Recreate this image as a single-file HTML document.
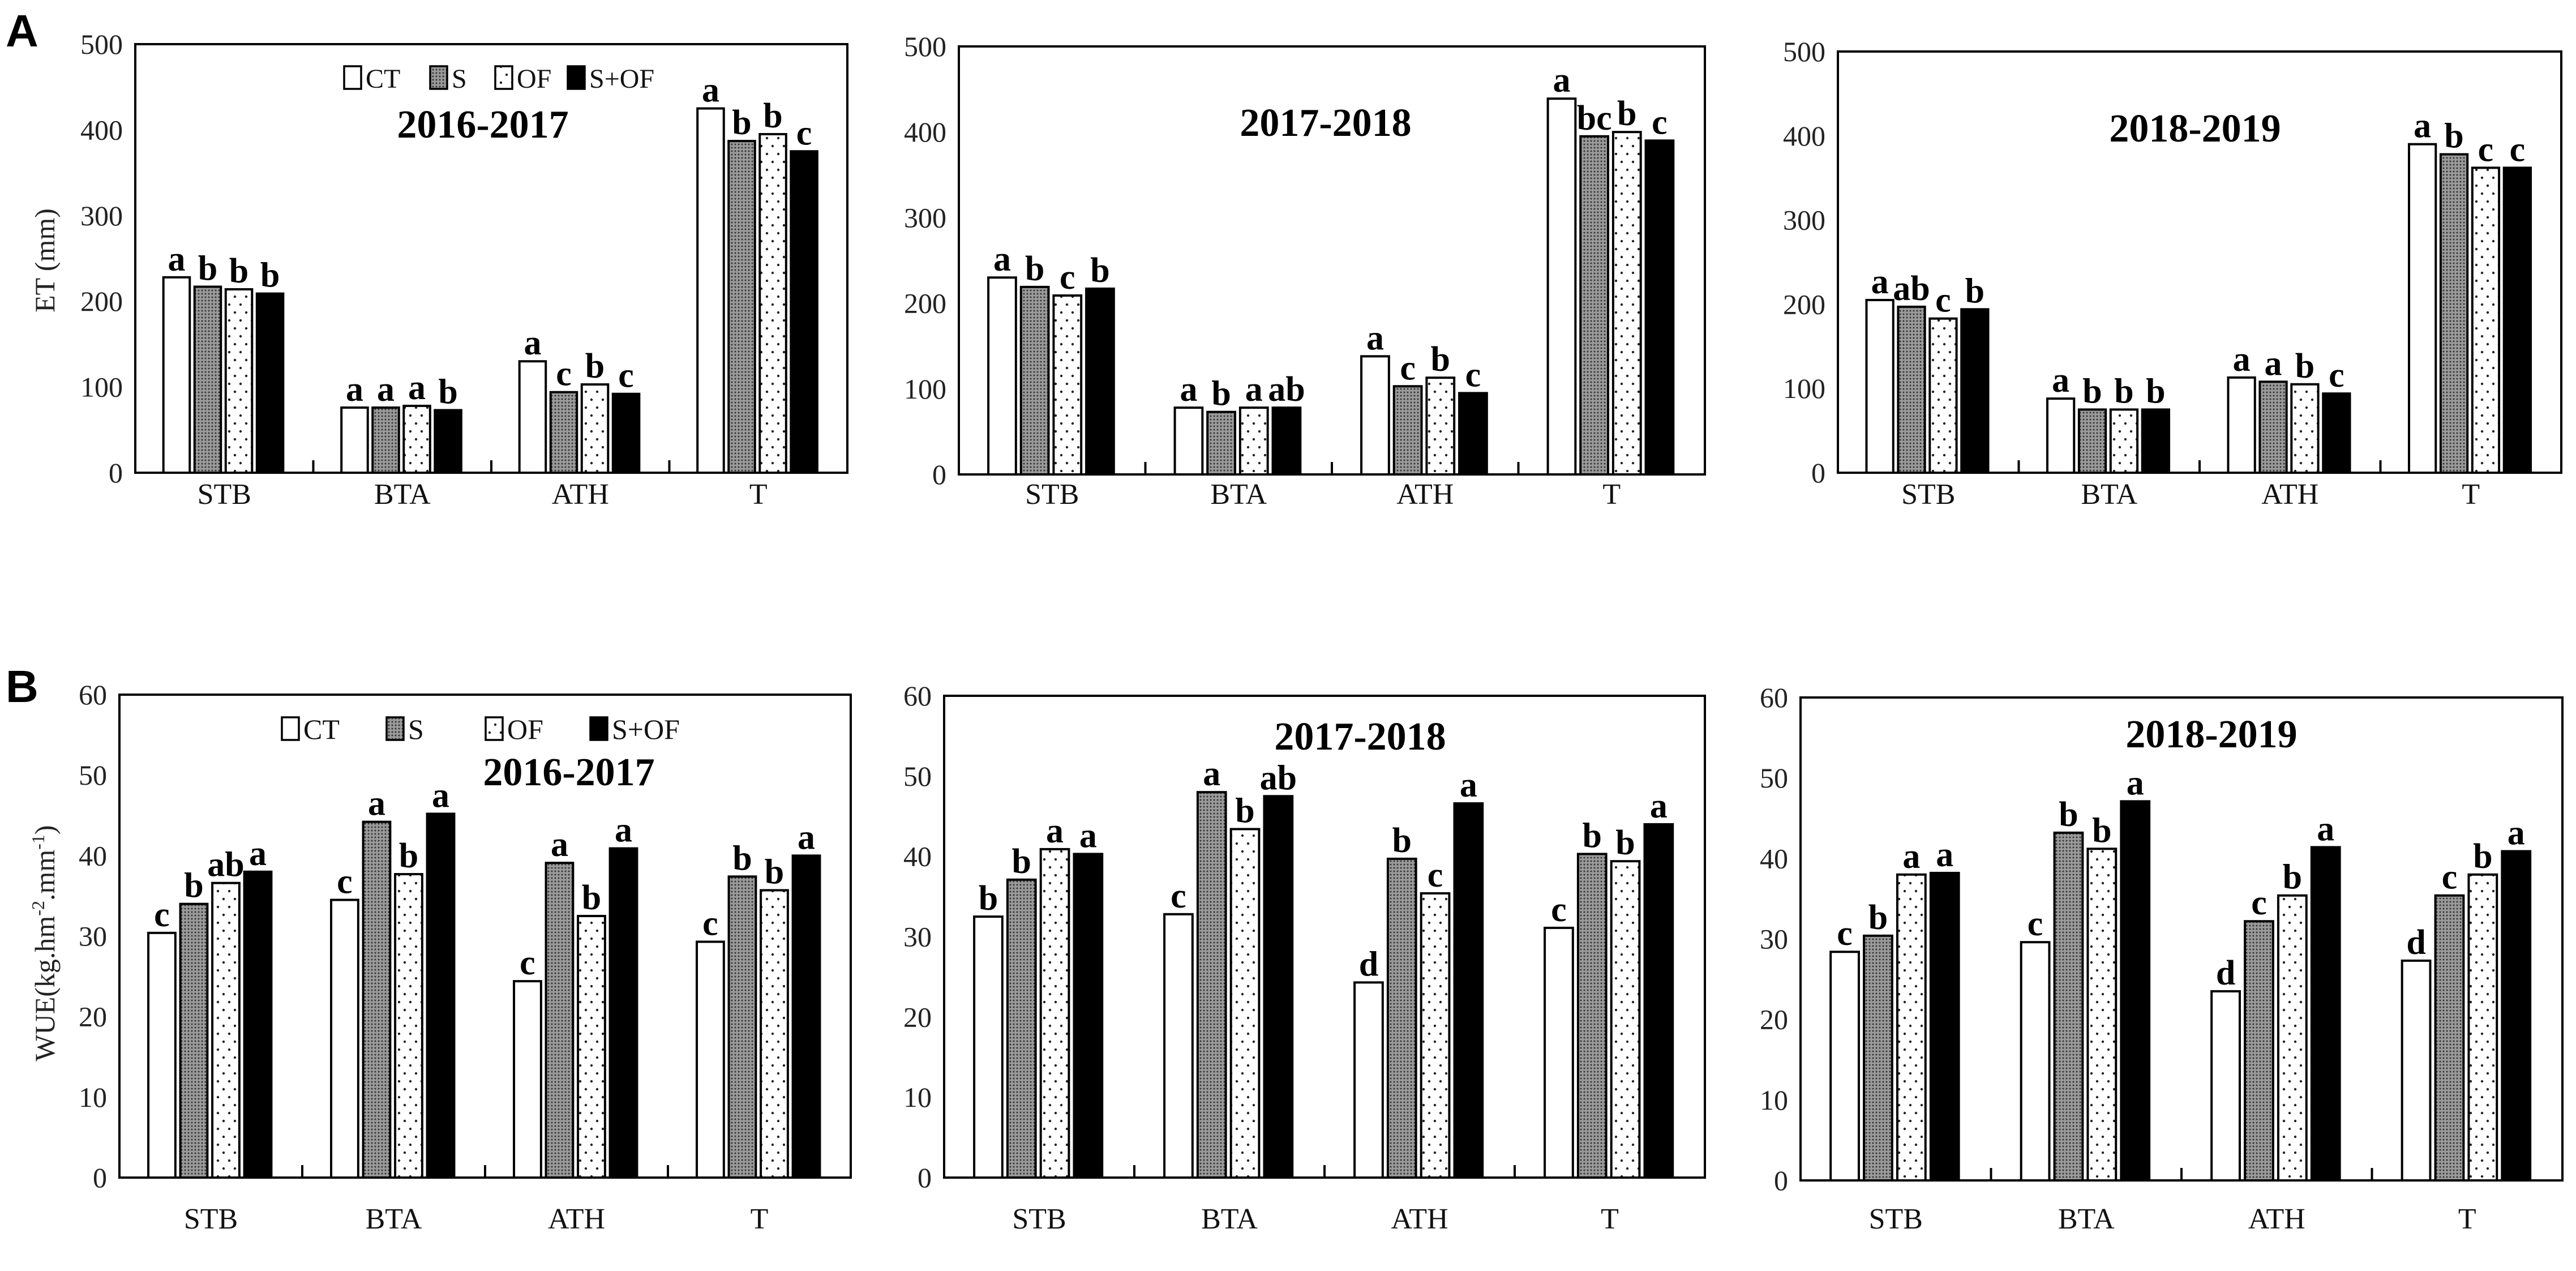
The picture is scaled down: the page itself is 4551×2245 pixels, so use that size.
<!DOCTYPE html>
<html><head><meta charset="utf-8"><style>
html,body{margin:0;padding:0;background:#fff;}
svg{display:block;}
</style></head><body>
<svg id="fig" xmlns="http://www.w3.org/2000/svg" width="4551" height="2245" viewBox="0 0 4551 2245">
<defs>
<pattern id="patS" patternUnits="userSpaceOnUse" width="6" height="6"><rect width="6" height="6" fill="#9a9a9a"/><circle cx="3" cy="3" r="1.5" fill="#333"/></pattern>
<pattern id="patOF" patternUnits="userSpaceOnUse" width="20" height="28"><rect width="20" height="28" fill="#fff"/><circle cx="5" cy="6" r="2.2" fill="#222"/><circle cx="15" cy="20" r="2.2" fill="#222"/></pattern>
</defs>
<rect width="4551" height="2245" fill="#fff"/>
<g id="root"></g>
</svg>
<script>
const categories = ["STB","BTA","ATH","T"];
const seriesNames = ["CT","S","OF","S+OF"];
const etTicks = [0,100,200,300,400,500];
const wueTicks = [0,10,20,30,40,50,60];
const et1 = [[228,217,214,209],[76,76,78,73],[130,94,103,92],[425,387,395,375]];
const et2 = [[230,219,209,217],[78,73,78,78],[138,103,113,95],[439,395,400,390]];
const et3 = [[205,197,183,194],[88,75,75,75],[113,108,105,94],[390,378,362,362]];
const etL1 = [["a","b","b","b"],["a","a","a","b"],["a","c","b","c"],["a","b","b","c"]];
const etL2 = [["a","b","c","b"],["a","b","a","ab"],["a","c","b","c"],["a","bc","b","c"]];
const etL3 = [["a","ab","c","b"],["a","b","b","b"],["a","a","b","c"],["a","b","c","c"]];
const wue1 = [[30.4,34,36.6,38],[34.5,44.2,37.7,45.2],[24.4,39.1,32.5,40.9],[29.3,37.4,35.7,40]];
const wue2 = [[32.5,37.1,40.9,40.3],[32.8,48,43.4,47.5],[24.3,39.7,35.4,46.6],[31.1,40.3,39.4,44]];
const wue3 = [[28.4,30.4,38,38.2],[29.6,43.2,41.2,47.1],[23.5,32.2,35.4,41.4],[27.3,35.4,38,40.9]];
const wueL1 = [["c","b","ab","a"],["c","a","b","a"],["c","a","b","a"],["c","b","b","a"]];
const wueL2 = [["b","b","a","a"],["c","a","b","ab"],["d","b","c","a"],["c","b","b","a"]];
const wueL3 = [["c","b","a","a"],["c","b","b","a"],["d","c","b","a"],["d","c","b","a"]];
const years = ["2016-2017","2017-2018","2018-2019"];

const NS="http://www.w3.org/2000/svg";
const root=document.getElementById('root');
function mk(tag,attrs,parent){const e=document.createElementNS(NS,tag);for(const k in attrs)e.setAttribute(k,attrs[k]);(parent||root).appendChild(e);return e;}
const fills=["#fff","url(#patS)","url(#patOF)","#000"];
const SERIF='"Liberation Serif", serif';

function panel(cfg){
  const g=mk('g',{});
  
  
  const {L,R,T,B,max,ticks,data,letters}=cfg;
  const gw=(R-L)/4;
  const y=v=>B-(v/max)*(B-T);
  const x=(ci,si)=>L+ci*gw+gw*0.158+si*gw*0.175;
  const bw=gw*0.148;
  const frame=mk('rect',{x:L,y:T,width:R-L,height:B-T,fill:'none',stroke:'#000','stroke-width':4},g);
  
  
  ticks.forEach(t=>{
    const tl=mk('text',{x:L-22,y:y(t)+17,'text-anchor':'end','font-family':SERIF,'font-size':50,fill:'#222'},g);
    tl.textContent=t;
    
    
  });
  for(let c=1;c<4;c++){
    const tk=mk('line',{x1:L+c*gw,x2:L+c*gw,y1:B,y2:B-22,stroke:'#000','stroke-width':4},g);
    
    
  }
  categories.forEach((cat,ci)=>{
    const cl=mk('text',{x:L+ci*gw+gw*0.5,y:cfg.catY,'text-anchor':'middle','font-family':SERIF,'font-size':52,fill:'#111'},g);
    cl.textContent=cat;
    
    
    data[ci].forEach((v,si)=>{
      const bx=x(ci,si), by=y(v);
      const r=mk('rect',{x:bx,y:by,width:bw,height:B-by,fill:fills[si],stroke:'#000','stroke-width':4},g);
      
      
      const lt=mk('text',{x:bx+bw/2,y:by-12,'text-anchor':'middle','font-family':SERIF,'font-weight':'bold','font-size':62,fill:'#000'},g);
      lt.textContent=letters[ci][si];
      
      
    });
  });
  const tt=mk('text',{x:cfg.titleX,y:cfg.titleY,'text-anchor':'middle','font-family':SERIF,'font-weight':'bold','font-size':70,fill:'#000'},g);
  tt.textContent=cfg.title;
  
  
  return g;
}

function legend(x0,yc,gaps,fs){
  const g=mk('g',{});
  
  
  let x=x0;
  seriesNames.forEach((n,i)=>{
    const b=mk('rect',{x:x,y:yc-20,width:30,height:40,fill:fills[i],stroke:'#000','stroke-width':3.5},g);
    
    
    const t=mk('text',{x:x+38,y:yc+18,'font-family':SERIF,'font-size':fs,fill:'#111'},g);
    t.textContent=n;
    
    
    x+=gaps[i];
  });
}

panel({name:'panel-a-2016-2017',L:239,R:1497,T:78,B:835,max:500,ticks:etTicks,data:et1,letters:etL1,catY:890,title:years[0],titleX:853,titleY:243});
panel({name:'panel-a-2017-2018',L:1694,R:3012,T:82,B:838,max:500,ticks:etTicks,data:et2,letters:etL2,catY:890,title:years[1],titleX:2342,titleY:240});
panel({name:'panel-a-2018-2019',L:3247,R:4525,T:91,B:835,max:500,ticks:etTicks,data:et3,letters:etL3,catY:890,title:years[2],titleX:3878,titleY:250});
panel({name:'panel-b-2016-2017',L:211,R:1503,T:1227,B:2080,max:60,ticks:wueTicks,data:wue1,letters:wueL1,catY:2170,title:years[0],titleX:1005,titleY:1387});
panel({name:'panel-b-2017-2018',L:1668,R:3012,T:1229,B:2080,max:60,ticks:wueTicks,data:wue2,letters:wueL2,catY:2170,title:years[1],titleX:2403,titleY:1324});
panel({name:'panel-b-2018-2019',L:3181,R:4527,T:1232,B:2085,max:60,ticks:wueTicks,data:wue3,letters:wueL3,catY:2170,title:years[2],titleX:3907,titleY:1320});

legend(608,137,[152,115,128,0],48);
legend(498,1287,[185,175,185,0],50);

function rotText(txt,x,yc,name){
  const t=mk('text',{x:0,y:0,transform:'translate('+x+','+yc+') rotate(-90)','text-anchor':'middle','font-family':SERIF,'font-size':50,fill:'#222'});
  t.textContent=txt;
  
  
  return t;
}
rotText('ET (mm)',96,460,'y-axis-title-et');
const wt=rotText('WUE(kg.hm',96,1666,'y-axis-title-wue');
wt.textContent='';
const p1=mk('tspan',{},wt);p1.textContent='WUE(kg.hm';
const p2=mk('tspan',{'font-size':32,dy:-18},wt);p2.textContent='-2';
const p3=mk('tspan',{dy:18},wt);p3.textContent='.mm';
const p4=mk('tspan',{'font-size':32,dy:-18},wt);p4.textContent='-1';
const p5=mk('tspan',{dy:18},wt);p5.textContent=')';

const A=mk('text',{x:10,y:82,'font-family':'"Liberation Sans", sans-serif','font-weight':'bold','font-size':80,fill:'#000'});
A.textContent='A';


const Bl=mk('text',{x:10,y:1240,'font-family':'"Liberation Sans", sans-serif','font-weight':'bold','font-size':80,fill:'#000'});
Bl.textContent='B';


</script>
</body></html>
